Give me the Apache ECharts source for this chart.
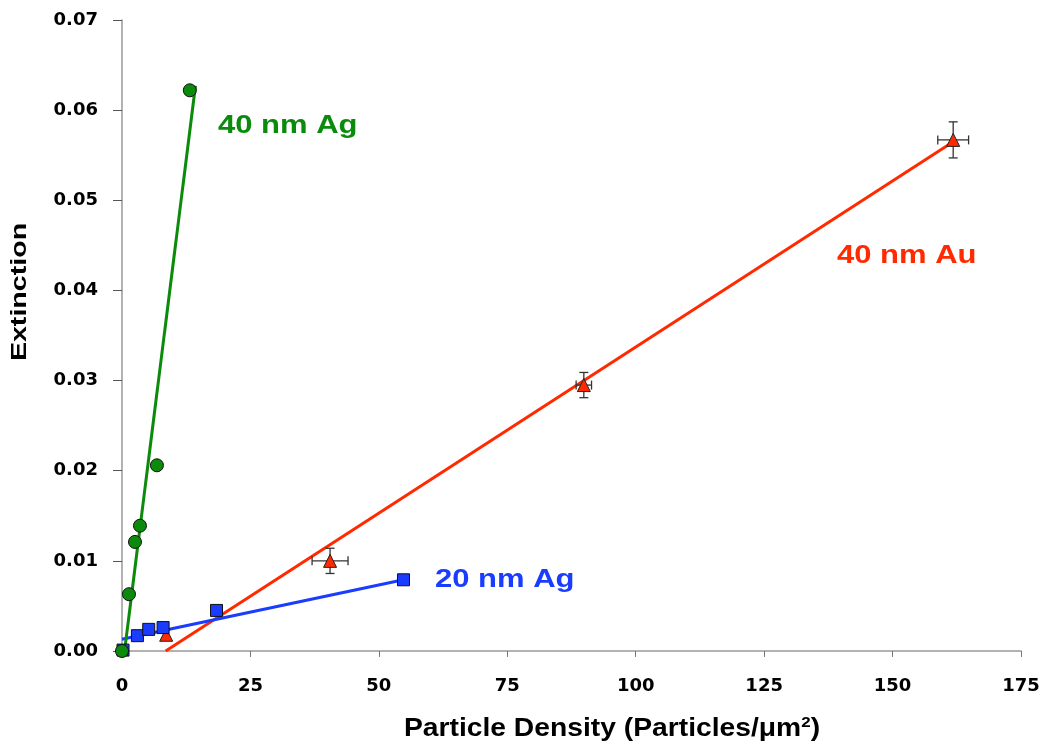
<!DOCTYPE html>
<html>
<head>
<meta charset="utf-8">
<script src="https://cdn.jsdelivr.net/npm/echarts@6/dist/echarts.min.js"></script>
<style>
html,body{margin:0;padding:0;background:#fff;}
#chart{width:1043px;height:745px;}
</style>
</head>
<body>
<div id="chart"></div>
<script>
// 40 nm Ag: density (particles/µm²) vs extinction
const ag40X = [0, 1.36, 2.53, 3.5, 6.8, 13.2];
const ag40Y = [0, 0.0063, 0.0121, 0.0139, 0.0206, 0.0622];
const ag40Fit = [[0.5, 0], [14.3, 0.0627]];

// 40 nm Au with error bars
const au40X = [8.6, 40.5, 89.9, 161.8];
const au40Y = [0.0018, 0.0100, 0.0295, 0.0567];
const au40XErr = [0.4, 3.5, 1.5, 3.0];
const au40YErr = [0.0006, 0.0014, 0.0014, 0.0020];
const au40Fit = [[8.5, 0], [161.8, 0.0565]];

// 20 nm Ag
const ag20X = [0.2, 3.0, 5.2, 8.0, 18.4, 54.8];
const ag20Y = [0.0001, 0.0017, 0.0024, 0.0026, 0.0045, 0.0079];
const ag20Fit = [[0, 0.0013], [54.8, 0.0079]];

const xTicks = [0, 25, 50, 75, 100, 125, 150, 175];
const yTicks = [0, 0.01, 0.02, 0.03, 0.04, 0.05, 0.06, 0.07];

const GREEN = '#0b8a0b', RED = '#ff2a00', BLUE = '#1a3cff';
const FONT = '"Liberation Sans", Arial, sans-serif';
const TICK_FONT = '"DejaVu Sans", Verdana, sans-serif';

const zip = (xs, ys) => xs.map((x, i) => [x, ys[i]]);
const auData = au40X.map((x, i) => [x, au40Y[i], au40XErr[i], au40YErr[i]]);

const chart = echarts.init(document.getElementById('chart'));

function errorBars(params, api) {
  const x = api.value(0), y = api.value(1), ex = api.value(2), ey = api.value(3);
  const c = api.coord([x, y]);
  const l = api.coord([x - ex, y]), r = api.coord([x + ex, y]);
  const t = api.coord([x, y + ey]), b = api.coord([x, y - ey]);
  const cap = 4.5;
  const style = { stroke: '#333', lineWidth: 1.3 };
  const seg = (x1, y1, x2, y2) => ({ type: 'line', shape: { x1, y1, x2, y2 }, style });
  return {
    type: 'group',
    children: [
      seg(l[0], c[1], r[0], c[1]),
      seg(l[0], c[1] - cap, l[0], c[1] + cap),
      seg(r[0], c[1] - cap, r[0], c[1] + cap),
      seg(c[0], t[1], c[0], b[1]),
      seg(c[0] - cap, t[1], c[0] + cap, t[1]),
      seg(c[0] - cap, b[1], c[0] + cap, b[1])
    ]
  };
}

const seriesLabel = (text, color, x, y) => ({
  type: 'text', x, y, scaleX: 1.24, z: 10,
  style: { text, fill: color, font: 'bold 25px ' + FONT, align: 'left', verticalAlign: 'middle' }
});

chart.setOption({
  animation: false,
  backgroundColor: '#fff',
  grid: { left: 122, right: 22, top: 20, bottom: 94 },
  xAxis: {
    type: 'value', min: 0, max: 175, interval: 25,
    axisLine: { lineStyle: { color: '#999', width: 1.5 } },
    axisTick: { show: true, length: 6, lineStyle: { color: '#777', width: 1 } },
    splitLine: { show: false },
    axisLabel: { color: '#000', fontFamily: TICK_FONT, fontWeight: 'bold', fontSize: 18, margin: 26,
      formatter: v => xTicks.includes(v) ? String(v) : '' }
  },
  yAxis: {
    type: 'value', min: 0, max: 0.07, interval: 0.01,
    axisLine: { show: true, lineStyle: { color: '#999', width: 1.5 } },
    axisTick: { show: true, length: 9, lineStyle: { color: '#555', width: 1 } },
    splitLine: { show: false },
    axisLabel: { color: '#000', fontFamily: TICK_FONT, fontWeight: 'bold', fontSize: 18, margin: 24,
      formatter: v => {
        const t = yTicks.find(k => Math.abs(k - v) < 1e-9);
        return t === undefined ? '' : t.toFixed(2);
      } }
  },
  series: [
    { type: 'line', data: au40Fit, symbol: 'none', lineStyle: { color: RED, width: 3 }, z: 2 },
    { type: 'line', data: ag20Fit, symbol: 'none', lineStyle: { color: BLUE, width: 3 }, z: 2 },
    { type: 'line', data: ag40Fit, symbol: 'none', lineStyle: { color: GREEN, width: 3 }, z: 2 },
    { type: 'custom', data: auData, renderItem: errorBars, z: 3 },
    { type: 'scatter', data: auData.map(d => [d[0], d[1]]), symbol: 'triangle', symbolSize: 13,
      itemStyle: { color: RED, borderColor: '#222', borderWidth: 1, opacity: 1 }, z: 4 },
    { type: 'scatter', data: zip(ag20X, ag20Y), symbol: 'rect', symbolSize: 12,
      itemStyle: { color: BLUE, borderColor: '#111', borderWidth: 1, opacity: 1 }, z: 5 },
    { type: 'scatter', data: zip(ag40X, ag40Y), symbol: 'circle', symbolSize: 13,
      itemStyle: { color: GREEN, borderColor: '#111', borderWidth: 1, opacity: 1 }, z: 6 }
  ],
  graphic: [
    seriesLabel('40 nm Ag', GREEN, 218, 126),
    seriesLabel('40 nm Au', RED, 837, 256),
    seriesLabel('20 nm Ag', BLUE, 435, 580),
    { type: 'text', x: 20, y: 292, rotation: Math.PI / 2, scaleX: 1.3, z: 10,
      style: { text: 'Extinction', fill: '#000', font: 'bold 22px ' + FONT, align: 'center', verticalAlign: 'middle' } },
    { type: 'text', x: 612, y: 729, scaleX: 1.13, z: 10,
      style: {
        text: 'Particle Density (Particles/μm{sup|2})', fill: '#000', font: 'bold 25px ' + FONT,
        align: 'center', verticalAlign: 'middle',
        rich: { sup: { fontSize: 15, fontWeight: 'bold', fontFamily: FONT, fill: '#000', padding: [0, 0, 12, 0] } }
      } }
  ]
});
</script>
</body>
</html>
